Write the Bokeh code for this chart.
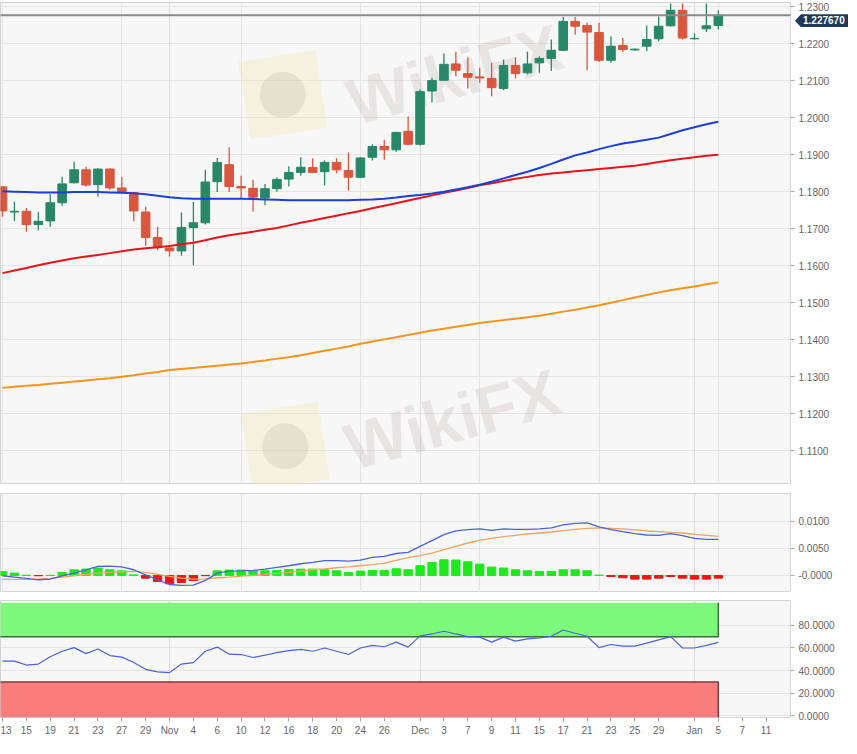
import pandas as pd
from bokeh.plotting import figure
from bokeh.layouts import column
from bokeh.models import (Range1d, FixedTicker, NumeralTickFormatter, Div, Grid, ColumnDataSource)
from bokeh.core.properties import value
from bokeh.embed import file_html
from bokeh.resources import INLINE

# ---------------- data ----------------
days = pd.bdate_range("2020-10-13", "2021-01-11")          # trading-day calendar (x categories)
day_index = {d.strftime("%Y-%m-%d"): i for i, d in enumerate(days)}

open_ = [1.1813, 1.1745, 1.1747, 1.1711, 1.1721, 1.1770, 1.1824, 1.1859, 1.1819, 1.1861,
         1.1810, 1.1797, 1.1745, 1.1676, 1.1648, 1.1640, 1.1703, 1.1716, 1.1827, 1.1873,
         1.1814, 1.1809, 1.1783, 1.1808, 1.1834, 1.1852, 1.1865, 1.1854, 1.1879, 1.1857,
         1.1839, 1.1893, 1.1922, 1.1913, 1.1963, 1.1928, 1.2072, 1.2101, 1.2145, 1.2119,
         1.2110, 1.2106, 1.2079, 1.2141, 1.2121, 1.2148, 1.2160, 1.2182, 1.2260, 1.2249,
         1.2230, 1.2155, 1.2195, 1.2183, 1.2193, 1.2213, 1.2248, 1.2290, 1.2213, 1.2240,
         1.2249]
high = [1.1815, 1.1773, 1.1756, 1.1745, 1.1794, 1.1840, 1.1881, 1.1867, 1.1863, 1.1863,
        1.1840, 1.1799, 1.1759, 1.1705, 1.1655, 1.1744, 1.1772, 1.1859, 1.1891, 1.1920,
        1.1843, 1.1832, 1.1821, 1.1839, 1.1869, 1.1893, 1.1890, 1.1884, 1.1890, 1.1906,
        1.1893, 1.1928, 1.1940, 1.1962, 1.2003, 1.2076, 1.2108, 1.2173, 1.2178, 1.2163,
        1.2135, 1.2148, 1.2157, 1.2163, 1.2178, 1.2166, 1.2211, 1.2272, 1.2272, 1.2256,
        1.2256, 1.2220, 1.2215, 1.2187, 1.2248, 1.2273, 1.2308, 1.2308, 1.2227, 1.2308,
        1.2290]
low = [1.1732, 1.1721, 1.1692, 1.1695, 1.1705, 1.1762, 1.1822, 1.1813, 1.1787, 1.1805,
       1.1797, 1.1720, 1.1654, 1.1642, 1.1625, 1.1627, 1.1601, 1.1711, 1.1799, 1.1799,
       1.1781, 1.1746, 1.1763, 1.1800, 1.1814, 1.1843, 1.1850, 1.1817, 1.1850, 1.1803,
       1.1837, 1.1884, 1.1886, 1.1908, 1.1926, 1.1925, 1.2041, 1.2099, 1.2112, 1.2079,
       1.2094, 1.2058, 1.2074, 1.2106, 1.2117, 1.2121, 1.2126, 1.2180, 1.2224, 1.2128,
       1.2150, 1.2148, 1.2177, 1.2181, 1.2179, 1.2206, 1.2246, 1.2211, 1.2211, 1.2231,
       1.2239]
close = [1.1748, 1.1747, 1.1711, 1.1720, 1.1770, 1.1821, 1.1859, 1.1818, 1.1861, 1.1810,
         1.1799, 1.1748, 1.1676, 1.1649, 1.1640, 1.1703, 1.1716, 1.1826, 1.1879, 1.1814,
         1.1810, 1.1785, 1.1808, 1.1833, 1.1852, 1.1866, 1.1852, 1.1879, 1.1859, 1.1839,
         1.1891, 1.1922, 1.1913, 1.1960, 1.1928, 1.2070, 1.2100, 1.2144, 1.2128, 1.2109,
         1.2107, 1.2081, 1.2141, 1.2119, 1.2145, 1.2160, 1.2182, 1.2260, 1.2247, 1.2231,
         1.2155, 1.2193, 1.2184, 1.2185, 1.2211, 1.2247, 1.2290, 1.2215, 1.2214, 1.2248,
         1.22767]

ma_blue = [1.1801, 1.1800, 1.1799, 1.1798, 1.1798, 1.1798, 1.1799, 1.1799, 1.1799, 1.1798,
           1.1797, 1.1796, 1.1793, 1.1789, 1.1785, 1.1782, 1.1781, 1.1781, 1.1781, 1.1781,
           1.1781, 1.1780, 1.1779, 1.1778, 1.1777, 1.1777, 1.1777, 1.1777, 1.1777, 1.1777,
           1.1778, 1.1779, 1.1781, 1.1784, 1.1788, 1.1791, 1.1795, 1.1800, 1.1806, 1.1812,
           1.1819, 1.1827, 1.1836, 1.1845, 1.1854, 1.1864, 1.1875, 1.1887, 1.1898, 1.1906,
           1.1915, 1.1923, 1.1930, 1.1935, 1.1940, 1.1946, 1.1956, 1.1966, 1.1974, 1.1982,
           1.1989]
ma_red = [1.1580, 1.1587, 1.1594, 1.1601, 1.1608, 1.1614, 1.1620, 1.1625, 1.1629, 1.1634,
          1.1639, 1.1644, 1.1647, 1.1650, 1.1653, 1.1658, 1.1662, 1.1669, 1.1676, 1.1682,
          1.1687, 1.1692, 1.1697, 1.1702, 1.1709, 1.1716, 1.1722, 1.1729, 1.1735, 1.1742,
          1.1748, 1.1755, 1.1762, 1.1769, 1.1776, 1.1783, 1.1790, 1.1797, 1.1803, 1.1810,
          1.1817, 1.1823, 1.1829, 1.1835, 1.1840, 1.1845, 1.1849, 1.1852, 1.1855, 1.1858,
          1.1861, 1.1864, 1.1867, 1.1870, 1.1875, 1.1880, 1.1885, 1.1889, 1.1893, 1.1897,
          1.1900]
ma_orange = [1.1270, 1.1273, 1.1276, 1.1278, 1.1281, 1.1284, 1.1287, 1.1290, 1.1293, 1.1296,
             1.1300, 1.1304, 1.1309, 1.1313, 1.1318, 1.1321, 1.1324, 1.1327, 1.1330, 1.1333,
             1.1336, 1.1340, 1.1344, 1.1349, 1.1353, 1.1358, 1.1364, 1.1370, 1.1376, 1.1382,
             1.1389, 1.1395, 1.1401, 1.1407, 1.1413, 1.1419, 1.1425, 1.1430, 1.1435, 1.1440,
             1.1445, 1.1449, 1.1453, 1.1457, 1.1461, 1.1465, 1.1470, 1.1476, 1.1481, 1.1487,
             1.1493, 1.1500, 1.1507, 1.1514, 1.1521, 1.1528, 1.1534, 1.1539, 1.1544, 1.1550,
             1.1555]

macd = [-0.00006, -0.0003, -0.00056, -0.0008, -0.00068, -0.00006, 0.00043, 0.00105, 0.00167, 0.00173,
        0.0016, 0.00105, 0.00012, -0.0008, -0.00167, -0.00185, -0.00179, -0.00093, 0.00043, 0.0008,
        0.00086, 0.00093, 0.00117, 0.00148, 0.00179, 0.00216, 0.0024, 0.00272, 0.00272, 0.00265,
        0.00284, 0.00333, 0.00352, 0.00405, 0.00426, 0.00537, 0.00642, 0.00753, 0.00821, 0.00846,
        0.00858, 0.00833, 0.00858, 0.00852, 0.00852, 0.00858, 0.00877, 0.00932, 0.00963, 0.00969,
        0.00895, 0.00846, 0.00809, 0.00772, 0.00747, 0.00741, 0.00772, 0.00735, 0.00685, 0.00667,
        0.00667]
signal = [-0.00068, -0.00074, -0.00074, -0.00068, -0.00056, -0.0003, -0.00006, 0.00019, 0.00043, 0.00056,
          0.00068, 0.00074, 0.00056, 0.00019, -0.00019, -0.0005, -0.00068, -0.00062, -0.00043, -0.0003,
          -0.00012, 0.0, 0.00019, 0.00037, 0.00056, 0.0008, 0.00105, 0.00123, 0.00142, 0.0016,
          0.00179, 0.00198, 0.00228, 0.0028, 0.00327, 0.00364, 0.00414, 0.00475, 0.00537, 0.00599,
          0.00648, 0.00685, 0.00716, 0.00741, 0.00765, 0.00784, 0.00802, 0.00827, 0.00852, 0.0087,
          0.00877, 0.0087, 0.00858, 0.0084, 0.00821, 0.00809, 0.00796, 0.00784, 0.00759, 0.00741,
          0.00722]
hist = [0.00074, 0.00043, 0.00002, -0.00006, 0.00001, 0.00056, 0.00105, 0.00117, 0.00136, 0.00105,
        0.00086, 0.0001, -0.0005, -0.0011, -0.00154, -0.0013, -0.00093, -0.00005, 0.00086, 0.00099,
        0.00099, 0.00086, 0.00086, 0.00093, 0.0011, 0.00117, 0.00117, 0.00105, 0.00086, 0.00056,
        0.0008, 0.00093, 0.00093, 0.00123, 0.00105, 0.0018, 0.0024, 0.0029, 0.00284, 0.00253,
        0.0021, 0.00154, 0.00136, 0.00105, 0.00086, 0.00074, 0.00074, 0.00105, 0.00105, 0.00086,
        0.00005, -0.0002, -0.00043, -0.00068, -0.00068, -0.0005, -0.0002, -0.0005, -0.00068, -0.00068,
        -0.0005]

rsi = [48.4, 48.4, 44.9, 45.8, 52.2, 57.1, 60.3, 55.0, 59.1, 53.3,
       51.9, 47.2, 41.1, 38.8, 38.2, 45.8, 47.0, 57.1, 60.8, 54.5,
       54.2, 51.6, 53.6, 55.9, 57.7, 58.8, 57.1, 60.0, 57.1, 54.2,
       60.0, 62.3, 61.1, 65.2, 60.8, 70.7, 72.4, 74.8, 72.4, 70.1,
       69.6, 65.2, 69.6, 66.1, 68.1, 69.0, 70.4, 75.9, 73.0, 70.4,
       60.3, 63.1, 61.7, 61.7, 64.3, 67.2, 70.1, 60.0, 60.0, 62.3,
       64.9]
rsi_overbought = (70, 100)
rsi_oversold = (0, 30)

last_price = 1.22767
last_price_text = "1.227670"

price_ticks = [1.11, 1.12, 1.13, 1.14, 1.15, 1.16, 1.17, 1.18, 1.19, 1.20, 1.21, 1.22, 1.23]
macd_ticks = [0.0, 0.005, 0.01]
rsi_ticks = [0, 20, 40, 60, 80]

tick_dates = ["2020-10-13", "2020-10-15", "2020-10-19", "2020-10-21", "2020-10-23", "2020-10-27",
              "2020-10-29", "2020-11-02", "2020-11-04", "2020-11-06", "2020-11-10", "2020-11-12",
              "2020-11-16", "2020-11-18", "2020-11-20", "2020-11-24", "2020-11-26", "2020-12-01",
              "2020-12-03", "2020-12-07", "2020-12-09", "2020-12-11", "2020-12-15", "2020-12-17",
              "2020-12-21", "2020-12-23", "2020-12-25", "2020-12-29", "2021-01-01", "2021-01-05",
              "2021-01-07", "2021-01-11"]
tick_labels = ["13", "15", "19", "21", "23", "27", "29", "Nov", "4", "6", "10", "12", "16", "18",
               "20", "24", "26", "Dec", "3", "7", "9", "11", "15", "17", "21", "23", "25", "29",
               "Jan", "5", "7", "11"]
month_starts = ["2020-11-02", "2020-12-01", "2021-01-01"]

# ---------------- styling / geometry ----------------
FONT = "Liberation Sans"
LABEL_SIZE = "10px"
BG = "#f7f7f7"
GRID = "#e4e4e4"
VGRID = "#dcdcdc"
OUTLINE = "#d4d4d4"
UP = "#288768"
DOWN = "#d9573e"
TAG = "#1f3958"

W = 849
RIGHT = 59
FRAME_W = W - RIGHT
X0, X1 = -0.168, 66.05                   # visible index range of the panels

x = list(range(len(close)))
tick_pos = [day_index[d] for d in tick_dates]
month_pos = [day_index[d] for d in month_starts]

xr = Range1d(X0, X1)


def style_yaxis(ax, ticks):
    ax.ticker = FixedTicker(ticks=ticks)
    ax.formatter = NumeralTickFormatter(format="0.0000")
    ax.axis_line_color = None
    ax.major_tick_in = 0
    ax.major_tick_out = 4
    ax.major_tick_line_color = "#aaaaaa"
    ax.minor_tick_line_color = None
    ax.major_label_text_font = FONT
    ax.major_label_text_font_size = LABEL_SIZE
    ax.major_label_text_color = "#666666"
    ax.major_label_standoff = 4


def base_fig(height, yr, top, bottom=0, xaxis=False):
    p = figure(width=W, height=height, x_range=xr, y_range=yr, y_axis_location="right",
               x_axis_location="below" if xaxis else None, toolbar_location=None,
               output_backend="svg", min_border_left=0, min_border_right=RIGHT,
               min_border_top=top, min_border_bottom=bottom, background_fill_color=BG,
               border_fill_color="white", outline_line_color=OUTLINE)
    if xaxis:
        p.xgrid.visible = False
    p.add_layout(Grid(dimension=0, ticker=FixedTicker(ticks=month_pos), grid_line_color=VGRID))
    p.ygrid.grid_line_color = GRID
    return p


# ---------------- main price panel ----------------
MAIN_TOP = 2
MAIN_H = 482
YR_MAIN = (1.1009, 1.2311)
p1 = base_fig(MAIN_TOP + MAIN_H, Range1d(*YR_MAIN), MAIN_TOP)
style_yaxis(p1.yaxis[0], price_ticks)

# faint watermarks
wm = ColumnDataSource(dict(x=[37.9, 37.7], y=[1.2116, 1.1185], t=["WikiFX", "WikiFX"]))
lg = ColumnDataSource(dict(x=[23.5, 23.7], y=[1.2062, 1.1112]))
p1.rect(x="x", y="y", width=78, height=78, width_units="screen", height_units="screen",
        angle=0.15, fill_color="#f3e2ae", fill_alpha=0.35, line_color=None, source=lg)
p1.scatter(x="x", y="y", size=46, fill_color="#b9aea8", fill_alpha=0.25, line_color=None, source=lg)
p1.text(x="x", y="y", text="t", angle=0.27, text_font=value(FONT), text_font_style="bold",
        text_font_size="66px", text_color="#a89c98", text_alpha=0.2, text_align="center",
        text_baseline="middle", source=wm)

up = [c >= o for o, c in zip(open_, close)]
colors = [UP if u else DOWN for u in up]
cs = ColumnDataSource(dict(x=x, o=open_, h=high, l=low, c=close,
                           top=[max(o, c) for o, c in zip(open_, close)],
                           bot=[min(o, c) for o, c in zip(open_, close)],
                           col=colors))
p1.segment(x0="x", y0="l", x1="x", y1="h", line_color="col", line_width=1.3, source=cs)
p1.vbar(x="x", top="top", bottom="bot", width=0.72, fill_color="col", line_color="col",
        line_width=1, source=cs)

p1.line(x, ma_orange, line_color="#f7941d", line_width=2)
p1.line(x, ma_red, line_color="#e8141c", line_width=2)
p1.line(x, ma_blue, line_color="#1c3fd4", line_width=2)

# last price line
p1.segment(x0=[X0 - 1], x1=[X1 + 1], y0=[last_price], y1=[last_price], line_color="#8a8a8a",
           line_width=2)

# last-price tag over the axis area (HTML overlay positioned at the price level)
tag_y = MAIN_TOP + (YR_MAIN[1] - last_price) / (YR_MAIN[1] - YR_MAIN[0]) * MAIN_H
tag = Div(text=last_price_text, width=53, height=13,
          styles={"position": "absolute", "left": f"{FRAME_W}px", "top": f"{tag_y - 5.5:.1f}px",
                  "width": "53px", "height": "13px", "background-color": TAG, "color": "white",
                  "font-family": "'Liberation Sans', sans-serif", "font-weight": "bold",
                  "font-size": "10px", "line-height": "13px", "padding-left": "8px",
                  "box-sizing": "border-box", "z-index": "10",
                  "clip-path": "polygon(0 50%, 6px 0, 100% 0, 100% 100%, 6px 100%)"})

# ---------------- MACD panel ----------------
p2 = base_fig(108, Range1d(-0.00315, 0.01513), 9)
style_yaxis(p2.yaxis[0], macd_ticks)
p2.yaxis.major_label_overrides = {0: "-0.0000"}
hcol = ["#1fe81f" if h >= 0 else "#f01414" for h in hist]
hs = ColumnDataSource(dict(x=x, h=hist, col=hcol))
p2.vbar(x="x", top="h", bottom=0, width=0.7, fill_color="col", line_color="col",
        line_width=1, source=hs)
p2.line(x, signal, line_color="#f4a35c", line_width=1.3)
p2.line(x, macd, line_color="#4a63dc", line_width=1.3)

# ---------------- RSI panel ----------------
p3 = base_fig(146, Range1d(-1.5, 102), 8, bottom=19, xaxis=True)
style_yaxis(p3.yaxis[0], rsi_ticks)
axx = p3.xaxis[0]
axx.ticker = FixedTicker(ticks=tick_pos)
axx.major_label_overrides = {p: l for p, l in zip(tick_pos, tick_labels)}
axx.axis_line_color = None
axx.major_tick_in = 0
axx.major_tick_out = 4
axx.major_tick_line_color = "#aaaaaa"
axx.minor_tick_line_color = None
axx.major_label_text_font = FONT
axx.major_label_text_font_size = LABEL_SIZE
axx.major_label_text_color = "#666666"
axx.major_label_standoff = 3

last = len(rsi) - 1
p3.quad(left=X0 - 1, right=last, bottom=rsi_overbought[0], top=rsi_overbought[1],
        fill_color="#7cfa7c", line_color=None)
p3.quad(left=X0 - 1, right=last, bottom=-1.5, top=rsi_oversold[1],
        fill_color="#fb7c7c", line_color=None)
p3.multi_line(xs=[[X0 - 1, last, last], [X0 - 1, last, last]],
              ys=[[rsi_overbought[0], rsi_overbought[0], rsi_overbought[1]],
                  [rsi_oversold[1], rsi_oversold[1], -1.5]],
              line_color=["#3e6b3e", "#7a3c3c"], line_width=1.5)
p3.line(x, rsi, line_color="#4a63dc", line_width=1.2)

layout = column(p1, p2, p3, tag)
open("out.html", "w").write(file_html(layout, INLINE))
